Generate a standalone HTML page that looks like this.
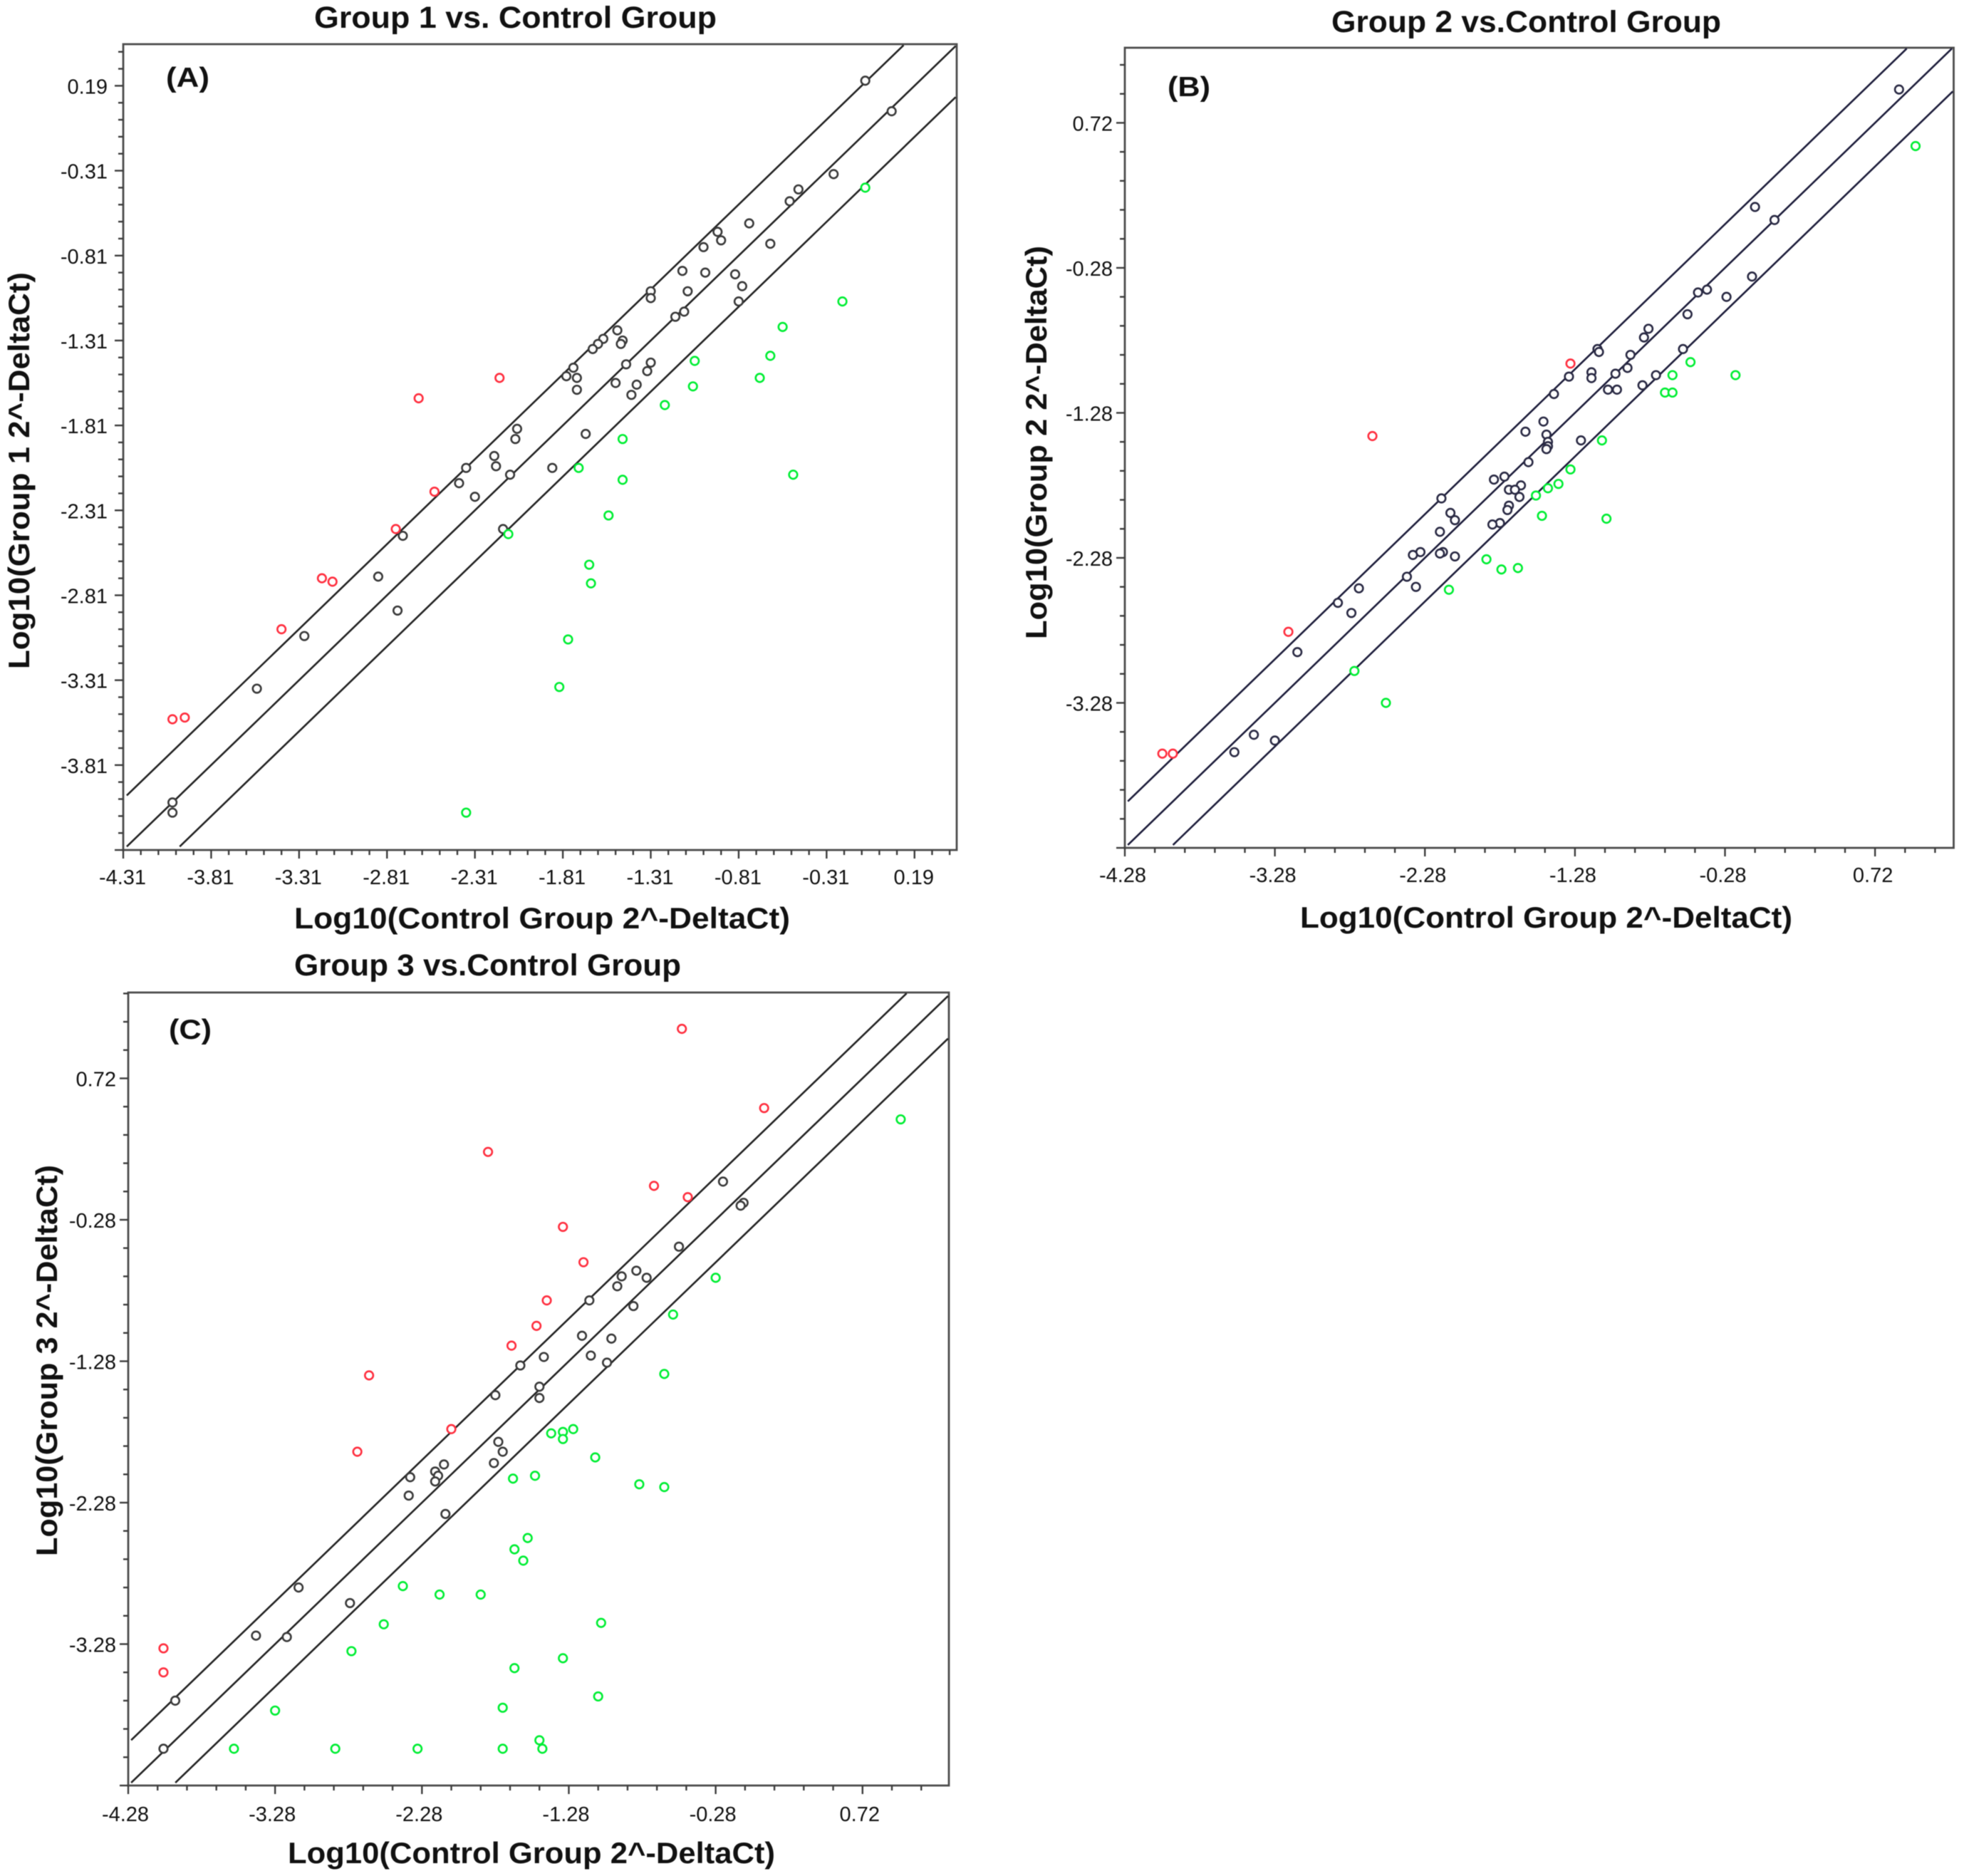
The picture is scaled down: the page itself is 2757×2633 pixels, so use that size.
<!DOCTYPE html>
<html lang="en">
<head>
<meta charset="utf-8">
<title>Group vs. Control scatter plots</title>
<style>
html,body{margin:0;padding:0;background:#fff;}
#figure{display:block;filter:blur(0.6px);}
text{font-family:"Liberation Sans",Arial,sans-serif;fill:#111;}
.title,.axis-title,.panel-letter{font-weight:bold;}
.title{font-size:43px;}
.axis-title{font-size:42px;}
.panel-letter{font-size:39px;}
.tick-label{font-size:29px;}
</style>
</head>
<body>
<svg id="figure" xmlns="http://www.w3.org/2000/svg" width="2757" height="2633" viewBox="0 0 2757 2633">
  <rect x="0" y="0" width="2757" height="2633" fill="#fff"/>

  <g id="panel-a"></g>
  <g id="panel-b"></g>
  <g id="panel-c"></g>

  <text class="title" x="441" y="39" textLength="565" lengthAdjust="spacingAndGlyphs">Group 1 vs. Control Group</text>
  <text class="panel-letter" x="233" y="122" textLength="61" lengthAdjust="spacingAndGlyphs">(A)</text>
  <text class="axis-title" x="413" y="1303" textLength="696" lengthAdjust="spacingAndGlyphs">Log10(Control Group 2^-DeltaCt)</text>
  <text class="axis-title" transform="translate(41 939) rotate(-90)" textLength="557" lengthAdjust="spacingAndGlyphs">Log10(Group 1 2^-DeltaCt)</text>

  <text class="title" x="1869" y="45" textLength="547" lengthAdjust="spacingAndGlyphs">Group 2 vs.Control Group</text>
  <text class="panel-letter" x="1639" y="135" textLength="60" lengthAdjust="spacingAndGlyphs">(B)</text>
  <text class="axis-title" x="1825" y="1302" textLength="691" lengthAdjust="spacingAndGlyphs">Log10(Control Group 2^-DeltaCt)</text>
  <text class="axis-title" transform="translate(1469 897) rotate(-90)" textLength="552" lengthAdjust="spacingAndGlyphs">Log10(Group 2 2^-DeltaCt)</text>

  <text class="title" x="413" y="1369" textLength="543" lengthAdjust="spacingAndGlyphs">Group 3 vs.Control Group</text>
  <text class="panel-letter" x="237" y="1458" textLength="60" lengthAdjust="spacingAndGlyphs">(C)</text>
  <text class="axis-title" x="404" y="2615" textLength="684" lengthAdjust="spacingAndGlyphs">Log10(Control Group 2^-DeltaCt)</text>
  <text class="axis-title" transform="translate(80 2184) rotate(-90)" textLength="549" lengthAdjust="spacingAndGlyphs">Log10(Group 3 2^-DeltaCt)</text>
</svg>

<script>
// Tick labels
const xTickLabelsA = ["-4.31","-3.81","-3.31","-2.81","-2.31","-1.81","-1.31","-0.81","-0.31","0.19"];
const yTickLabelsA = ["0.19","-0.31","-0.81","-1.31","-1.81","-2.31","-2.81","-3.31","-3.81"];
const xTickLabelsB = ["-4.28","-3.28","-2.28","-1.28","-0.28","0.72"];
const yTickLabelsB = ["0.72","-0.28","-1.28","-2.28","-3.28"];
const xTickLabelsC = ["-4.28","-3.28","-2.28","-1.28","-0.28","0.72"];
const yTickLabelsC = ["0.72","-0.28","-1.28","-2.28","-3.28"];

// Fold-change boundary lines: y = x + offset
const boundaryOffsets = [0.301, 0, -0.301];

// Panel A values: [log10 control, log10 group 1]
const aUnchanged = [[-.09,.22],[.06,.04],[-.27,-.33],[-.47,-.42],[-.52,-.49],[-.75,-.62],[-.93,-.67],[-.91,-.72],[-.63,-.74],[-1.01,-.76],[-1.13,-.90],[-1.00,-.91],[-.83,-.92],[-.79,-.99],[-1.10,-1.02],[-1.31,-1.02],[-1.31,-1.06],[-.81,-1.08],[-1.12,-1.14],[-1.17,-1.17],[-1.50,-1.25],[-1.47,-1.31],[-1.48,-1.33],[-1.58,-1.30],[-1.61,-1.33],[-1.64,-1.36],[-1.75,-1.47],[-1.79,-1.52],[-1.73,-1.53],[-1.73,-1.60],[-1.45,-1.45],[-1.51,-1.56],[-1.31,-1.44],[-1.33,-1.49],[-1.39,-1.57],[-1.42,-1.63],[-1.68,-1.86],[-2.07,-1.83],[-2.08,-1.89],[-2.20,-1.99],[-2.19,-2.05],[-2.36,-2.06],[-1.87,-2.06],[-2.11,-2.10],[-2.40,-2.15],[-2.31,-2.23],[-2.15,-2.42],[-2.72,-2.46],[-2.86,-2.70],[-2.75,-2.90],[-3.28,-3.05],[-3.55,-3.36],[-4.03,-4.03],[-4.03,-4.09]];
const aUp = [[-2.17,-1.53],[-2.63,-1.65],[-2.54,-2.20],[-2.76,-2.42],[-3.18,-2.71],[-3.12,-2.73],[-3.41,-3.01],[-3.96,-3.53],[-4.03,-3.54]];
const aDown = [[-.09,-.41],[-.22,-1.08],[-.56,-1.23],[-.63,-1.40],[-.69,-1.53],[-1.06,-1.43],[-1.07,-1.58],[-1.23,-1.69],[-1.47,-1.89],[-1.47,-2.13],[-1.72,-2.06],[-1.55,-2.34],[-2.12,-2.45],[-1.66,-2.63],[-1.65,-2.74],[-1.78,-3.07],[-1.83,-3.35],[-2.36,-4.09],[-.50,-2.10]];

// Panel B values: [log10 control, log10 group 2]
const bUnchanged = [[.88,.95],[-.08,.14],[.05,.05],[-.10,-.34],[-.40,-.43],[-.46,-.45],[-.27,-.48],[-.53,-.60],[-.79,-.70],[-.82,-.76],[-.56,-.84],[-1.13,-.84],[-1.12,-.86],[-.91,-.88],[-.93,-.97],[-1.01,-1.01],[-1.17,-1.00],[-1.17,-1.04],[-1.32,-1.03],[-.74,-1.02],[-.83,-1.09],[-1.06,-1.12],[-1.00,-1.12],[-1.42,-1.15],[-1.61,-1.41],[-1.49,-1.34],[-1.47,-1.43],[-1.46,-1.48],[-1.46,-1.51],[-1.47,-1.53],[-1.24,-1.47],[-1.59,-1.62],[-1.82,-1.74],[-1.75,-1.72],[-1.72,-1.81],[-1.64,-1.78],[-1.68,-1.81],[-1.65,-1.86],[-1.72,-1.92],[-1.73,-1.95],[-2.17,-1.87],[-2.11,-1.97],[-2.08,-2.02],[-1.78,-2.04],[-1.83,-2.05],[-2.18,-2.10],[-2.31,-2.24],[-2.36,-2.26],[-2.16,-2.24],[-2.18,-2.25],[-2.08,-2.27],[-2.40,-2.41],[-2.34,-2.48],[-2.72,-2.49],[-2.86,-2.59],[-2.77,-2.66],[-3.13,-2.93],[-3.42,-3.50],[-3.28,-3.54],[-3.55,-3.62]];
const bUp = [[-1.31,-.94],[-2.63,-1.44],[-3.19,-2.79],[-4.03,-3.63],[-3.96,-3.63]];
const bDown = [[.99,.56],[-.21,-1.02],[-.51,-.93],[-.63,-1.02],[-.68,-1.14],[-.63,-1.14],[-1.10,-1.47],[-1.31,-1.67],[-1.39,-1.77],[-1.46,-1.80],[-1.54,-1.85],[-1.50,-1.99],[-1.07,-2.01],[-1.87,-2.29],[-1.66,-2.35],[-1.77,-2.36],[-2.12,-2.50],[-2.75,-3.06],[-2.54,-3.28]];

// Panel C values: [log10 control, log10 group 3]
const cUnchanged = [[-.23,-.01],[-.09,-.16],[-.11,-.18],[-.53,-.47],[-.82,-.64],[-.75,-.69],[-.92,-.68],[-.95,-.75],[-1.14,-.85],[-.84,-.89],[-1.19,-1.10],[-.99,-1.12],[-1.13,-1.24],[-1.02,-1.29],[-1.45,-1.25],[-1.61,-1.31],[-1.48,-1.46],[-1.48,-1.54],[-1.78,-1.52],[-1.76,-1.85],[-1.73,-1.92],[-1.79,-2.00],[-2.13,-2.01],[-2.19,-2.06],[-2.17,-2.09],[-2.19,-2.13],[-2.36,-2.10],[-2.37,-2.23],[-2.12,-2.36],[-3.12,-2.88],[-2.77,-2.99],[-3.41,-3.22],[-3.20,-3.23],[-3.96,-3.68],[-4.04,-4.02]];
const cUp = [[-.51,1.07],[.05,.51],[-1.83,.20],[-.70,-.04],[-.47,-.12],[-1.32,-.33],[-1.18,-.58],[-1.43,-.85],[-1.50,-1.03],[-1.67,-1.17],[-2.64,-1.38],[-2.08,-1.76],[-2.72,-1.92],[-4.04,-3.31],[-4.04,-3.48]];
const cDown = [[.98,.43],[-.28,-.69],[-.57,-.95],[-.63,-1.37],[-1.25,-1.76],[-1.32,-1.78],[-1.32,-1.83],[-1.40,-1.79],[-1.10,-1.96],[-.80,-2.15],[-.63,-2.17],[-1.51,-2.09],[-1.66,-2.11],[-1.56,-2.53],[-1.65,-2.61],[-1.59,-2.69],[-1.88,-2.93],[-2.16,-2.93],[-2.41,-2.87],[-2.54,-3.14],[-2.76,-3.33],[-3.28,-3.75],[-1.06,-3.13],[-1.32,-3.38],[-1.65,-3.45],[-1.08,-3.65],[-1.73,-3.73],[-1.48,-3.96],[-1.46,-4.02],[-1.73,-4.02],[-2.31,-4.02],[-2.87,-4.02],[-3.56,-4.02]];

const SVG_NS = 'http://www.w3.org/2000/svg';
const COLOR_UNCHANGED_A = '#3a3a3a';
const COLOR_UP = '#ff2f3f';
const COLOR_DOWN = '#00ee33';

function makeEl(parent, tag) {
  const el = document.createElementNS(SVG_NS, tag);
  parent.appendChild(el);
  return el;
}

function drawPanel(groupId, box, domain, xLabels, yLabels, majorStep, minorStep, labelGeom, lineColor, unchangedColor, unchanged, up, down) {
  const g = document.getElementById(groupId);
  const xScale = v => box.left + (v - domain.xmin) * (box.right - box.left) / (domain.xmax - domain.xmin);
  const yScale = v => box.bottom - (v - domain.ymin) * (box.bottom - box.top) / (domain.ymax - domain.ymin);

  // frame
  const frame = makeEl(g, 'rect');
  
  
  frame.setAttribute('x', box.left);
  frame.setAttribute('y', box.top);
  frame.setAttribute('width', box.right - box.left);
  frame.setAttribute('height', box.bottom - box.top);
  frame.setAttribute('fill', 'none');
  frame.setAttribute('stroke', '#4c4c4c');
  frame.setAttribute('stroke-width', '2.8');

  // x ticks
  const xStart = parseFloat(xLabels[0]);
  const nXMinor = Math.floor((domain.xmax - xStart) / minorStep + 1e-6);
  for (let i = 0; i <= nXMinor; i++) {
    const v = xStart + i * minorStep;
    const isMajor = Math.abs(v / majorStep - Math.round(v / majorStep) - (xStart / majorStep - Math.round(xStart / majorStep))) < 1e-6;
    const t = makeEl(g, 'line');
    
    
    t.setAttribute('x1', xScale(v));
    t.setAttribute('x2', xScale(v));
    t.setAttribute('y1', box.bottom);
    t.setAttribute('y2', box.bottom + (isMajor ? 12 : 7));
    t.setAttribute('stroke', '#3c3c3c');
    t.setAttribute('stroke-width', '2.4');
  }

  // y ticks
  const yStart = parseFloat(yLabels[0]);
  const firstY = yStart + Math.floor((domain.ymax - yStart) / minorStep + 1e-6) * minorStep;
  const nYMinor = Math.floor((firstY - domain.ymin) / minorStep + 1e-6);
  for (let i = 0; i <= nYMinor; i++) {
    const v = firstY - i * minorStep;
    const r = (v - yStart) / majorStep;
    const isMajor = Math.abs(r - Math.round(r)) < 1e-6;
    const t = makeEl(g, 'line');
    
    
    t.setAttribute('x1', box.left);
    t.setAttribute('x2', box.left - (isMajor ? 12 : 7));
    t.setAttribute('y1', yScale(v));
    t.setAttribute('y2', yScale(v));
    t.setAttribute('stroke', '#3c3c3c');
    t.setAttribute('stroke-width', '2.4');
  }

  // tick labels
  xLabels.forEach(label => {
    const t = makeEl(g, 'text');
    
    
    t.setAttribute('class', 'tick-label');
    t.setAttribute('x', xScale(parseFloat(label)) + labelGeom.xDx);
    t.setAttribute('y', labelGeom.xBaseline);
    t.setAttribute('text-anchor', 'middle');
    t.textContent = label;
  });
  yLabels.forEach(label => {
    const t = makeEl(g, 'text');
    
    
    t.setAttribute('class', 'tick-label');
    t.setAttribute('x', labelGeom.yRight);
    t.setAttribute('y', yScale(parseFloat(label)) + 11);
    t.setAttribute('text-anchor', 'end');
    t.textContent = label;
  });

  // boundary lines
  boundaryOffsets.forEach(off => {
    const a = Math.max(domain.xmin, domain.ymin - off) + 0.02;
    const b = Math.min(domain.xmax, domain.ymax - off) - 0.006;
    const l = makeEl(g, 'line');
    
    
    l.setAttribute('x1', xScale(a));
    l.setAttribute('y1', yScale(a + off));
    l.setAttribute('x2', xScale(b));
    l.setAttribute('y2', yScale(b + off));
    l.setAttribute('stroke', lineColor);
    l.setAttribute('stroke-width', '2.6');
  });

  // points
  function drawPoints(values, color, name) {
    values.forEach(p => {
      const c = makeEl(g, 'circle');
      
      
      c.setAttribute('cx', xScale(p[0]));
      c.setAttribute('cy', yScale(p[1]));
      c.setAttribute('r', '5.8');
      c.setAttribute('fill', '#fff');
      c.setAttribute('stroke', color);
      c.setAttribute('stroke-width', '2.6');
    });
  }
  drawPoints(unchanged, unchangedColor, 'unchanged-point');
  drawPoints(up, COLOR_UP, 'upregulated-point');
  drawPoints(down, COLOR_DOWN, 'downregulated-point');
}

drawPanel('panel-a',
  {left:173, right:1343, top:62, bottom:1193},
  {xmin:-4.31, xmax:0.43, ymin:-4.31, ymax:0.435},
  xTickLabelsA, yTickLabelsA, 0.5, 0.1,
  {xDx:-1, xBaseline:1241, yRight:151},
  '#222222', COLOR_UNCHANGED_A, aUnchanged, aUp, aDown);

drawPanel('panel-b',
  {left:1579, right:2742.5, top:67, bottom:1190},
  {xmin:-4.28, xmax:1.244, ymin:-4.28, ymax:1.238},
  xTickLabelsB, yTickLabelsB, 1, 0.2,
  {xDx:-3, xBaseline:1238, yRight:1562},
  '#1c1c3a', '#2a2a44', bUnchanged, bUp, bDown);

drawPanel('panel-c',
  {left:180, right:1332, top:1393, bottom:2506},
  {xmin:-4.28, xmax:1.308, ymin:-4.28, ymax:1.327},
  xTickLabelsC, yTickLabelsC, 1, 0.2,
  {xDx:-4, xBaseline:2556, yRight:163},
  '#222222', COLOR_UNCHANGED_A, cUnchanged, cUp, cDown);
</script>
</body>
</html>
